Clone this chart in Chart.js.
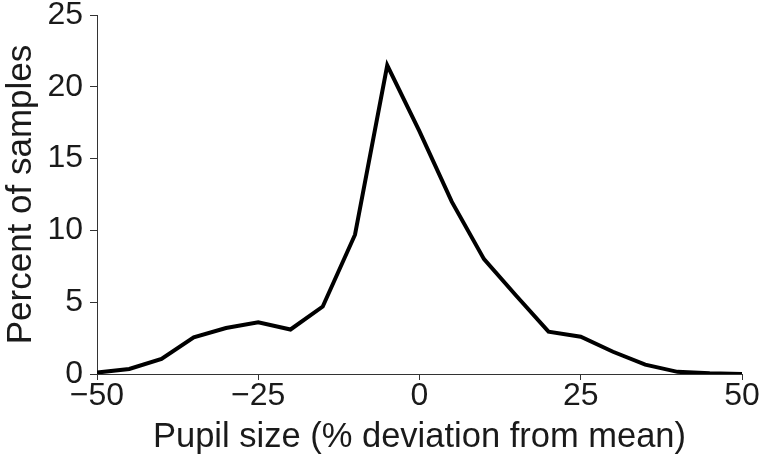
<!DOCTYPE html>
<html>
<head>
<meta charset="utf-8">
<script src="https://cdn.jsdelivr.net/npm/chart.js@4/dist/chart.umd.min.js"></script>
<style>
  html, body { margin: 0; padding: 0; background: #fff; }
  #wrap { width: 766px; height: 464px; }
</style>
</head>
<body>
<div id="wrap"><canvas id="myChart" width="766" height="464"></canvas></div>
<script>
const deviation = [-50, -45, -40, -35, -30, -25, -20, -15, -10, -5, 0, 5, 10, 15, 20, 25, 30, 35, 40, 45, 50];
const percent = [0.1, 0.35, 1.05, 2.55, 3.2, 3.6, 3.1, 4.7, 9.7, 21.5, 16.9, 12.0, 8.0, 5.45, 2.95, 2.6, 1.55, 0.65, 0.15, 0.05, 0];
const xTicks = [-50, -25, 0, 25, 50];
const yTicks = [0, 5, 10, 15, 20, 25];

const fontFam = '"Liberation Sans", Arial, Helvetica, sans-serif';

function pupilChart() {
    const inf = {
        datasets: [
            {
                data: deviation.map((d, i) => ({ x: d, y: percent[i] })),
                borderColor: '#000',
                borderWidth: 4,
                pointRadius: 0,
                tension: 0,
                fill: false,
            },
        ],
    };
    const options = {
        responsive: false,
        animation: false,
        layout: { padding: { left: 0, right: 24, top: 15, bottom: 0 } },
        scales: {
            x: {
                type: 'linear',
                min: -50,
                max: 50,
                afterBuildTicks: (s) => { s.ticks = xTicks.map((v) => ({ value: v })); },
                afterFit: (s) => { s.height = 90; s.paddingLeft = 0; s.paddingRight = 0; },
                ticks: {
                    color: '#1a1a1a',
                    font: { family: fontFam, size: 32 },
                    padding: -3,
                    maxRotation: 0,
                    callback: (v) => (v < 0 ? '\u2212' + Math.abs(v) : String(v)),
                },
                grid: { drawOnChartArea: false, drawTicks: true, tickLength: 6, color: '#333', lineWidth: 1 },
                border: { display: true, color: '#333', width: 1 },
                title: {
                    display: true,
                    text: 'Pupil size (% deviation from mean)',
                    color: '#1a1a1a',
                    font: { family: fontFam, size: 34.5 },
                    padding: { top: 0, bottom: 6 },
                },
            },
            y: {
                min: 0,
                max: 25,
                afterBuildTicks: (s) => { s.ticks = yTicks.map((v) => ({ value: v })); },
                afterFit: (s) => { s.width = 97; s.paddingTop = 0; s.paddingBottom = 0; },
                ticks: {
                    color: '#1a1a1a',
                    font: { family: fontFam, size: 32 },
                    padding: 7,
                },
                grid: { drawOnChartArea: false, drawTicks: true, tickLength: 7, color: '#333', lineWidth: 1 },
                border: { display: true, color: '#333', width: 1 },
                title: {
                    display: true,
                    text: 'Percent of samples',
                    color: '#1a1a1a',
                    font: { family: fontFam, size: 35 },
                    padding: { top: 0, bottom: 0 },
                },
            },
        },
        plugins: {
            legend: { display: false },
            tooltip: { enabled: false },
        },
    };

    const config = {
        type: 'line',
        data: inf,
        options,
    };
    const myChart = new Chart(document.getElementById('myChart'), config);
}
pupilChart();
</script>
</body>
</html>
